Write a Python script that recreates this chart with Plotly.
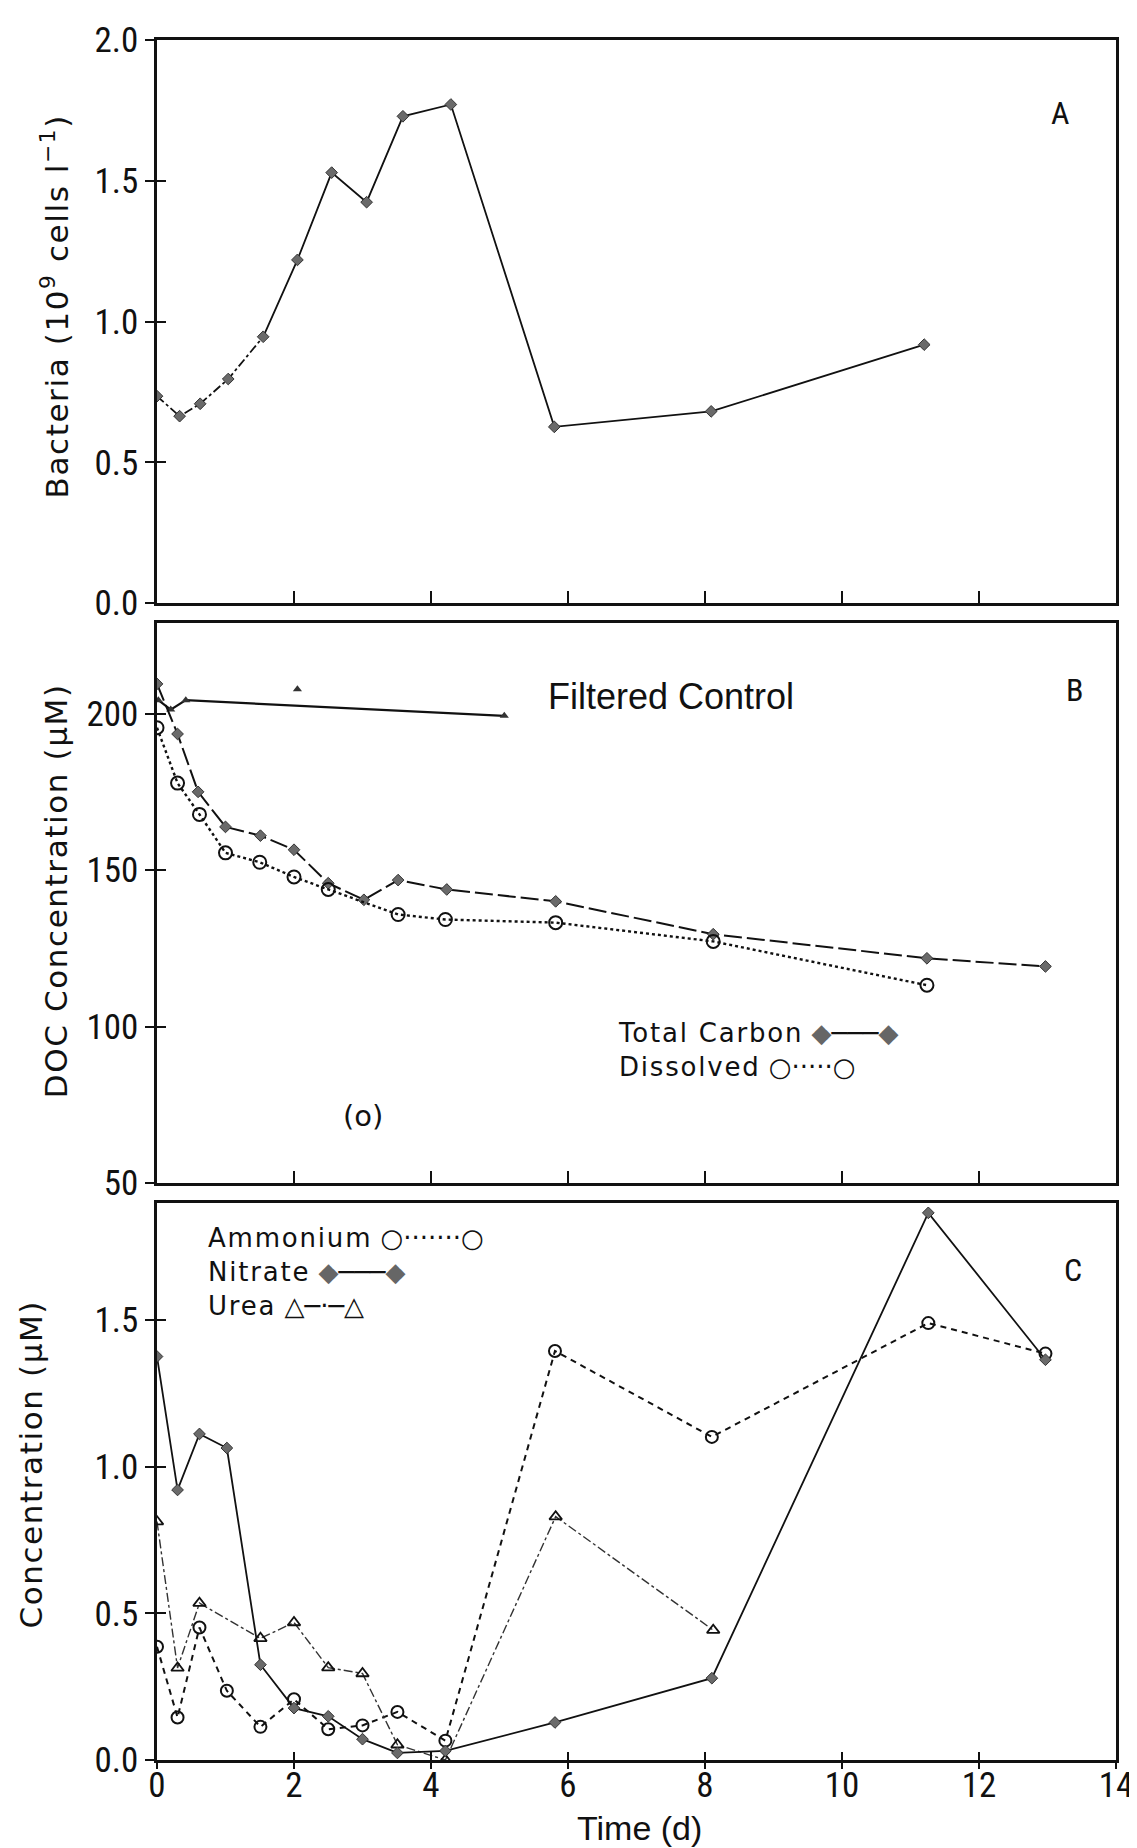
import plotly.graph_objects as go

# ---------------- data ----------------
# Panel A: bacteria
bact_days = [0.0, 0.33, 0.63, 1.04, 1.55, 2.05, 2.55, 3.06, 3.59, 4.29, 5.8, 8.09, 11.2]
bacteria = [0.735, 0.664, 0.708, 0.796, 0.946, 1.219, 1.529, 1.424, 1.729, 1.771, 0.626, 0.681, 0.918]

# Panel B: DOC
tc_days = [0.0, 0.3, 0.6, 1.0, 1.51, 2.0, 2.5, 3.02, 3.52, 4.23, 5.82, 8.12, 11.24, 12.97]
total_carbon = [209.5, 193.5, 175.0, 163.8, 161.0, 156.5, 145.8, 140.5, 146.8, 143.8, 140.0, 129.5, 121.8, 119.2]
dis_days = [0.0, 0.3, 0.62, 1.0, 1.5, 2.0, 2.5, 3.52, 4.21, 5.82, 8.12, 11.24]
dissolved = [195.5, 177.8, 167.8, 155.5, 152.5, 147.8, 143.8, 135.8, 134.2, 133.2, 127.2, 113.2]
ctrl_days = [0.02, 0.2, 0.42, 5.07]
ctrl_doc = [204.3, 201.3, 204.3, 199.3]
ctrl_extra_day = [2.05]
ctrl_extra_doc = [207.8]

# Panel C: nitrogen
n_days = [0.0, 0.3, 0.62, 1.02, 1.51, 2.0, 2.5, 3.0, 3.51, 4.21, 5.81, 8.1, 11.26, 12.97]
nitrate = [1.376, 0.921, 1.112, 1.064, 0.325, 0.177, 0.149, 0.071, 0.024, 0.031, 0.128, 0.279, 1.866, 1.365]
ammonium = [0.386, 0.145, 0.452, 0.236, 0.113, 0.207, 0.105, 0.118, 0.164, 0.066, 1.395, 1.102, 1.49, 1.386]
urea_days = [0.0, 0.3, 0.62, 1.51, 2.0, 2.5, 3.0, 3.51, 4.21, 5.82, 8.12]
urea = [0.813, 0.314, 0.535, 0.415, 0.469, 0.315, 0.295, 0.052, 0.0, 0.83, 0.443]

x_ticks = [0, 2, 4, 6, 8, 10, 12, 14]
a_ticks = [0.0, 0.5, 1.0, 1.5, 2.0]
b_ticks = [50, 100, 150, 200]
c_ticks = [0.0, 0.5, 1.0, 1.5]

# ---------------- style ----------------
NARROW = "Liberation Sans Narrow, Arial Narrow, Roboto Condensed, Liberation Sans, sans-serif"
PLAIN = "Liberation Sans, Arial, sans-serif"
WIDE = "DejaVu Sans, Verdana, sans-serif"
INK = "#111111"
FILL = "#6a6a6a"

fig = go.Figure()

dia = dict(symbol="diamond", size=9, color=FILL, line=dict(color="#333333", width=1))
circ = dict(symbol="circle-open", size=12, color=INK, line=dict(width=2))
tri = dict(symbol="triangle-up-open", size=11, color=INK, line=dict(width=1.8))

# Panel A
fig.add_trace(go.Scatter(x=bact_days[:5], y=bacteria[:5], mode="lines", xaxis="x", yaxis="y",
                         line=dict(color=INK, width=1.8, dash="dashdot"), showlegend=False))
fig.add_trace(go.Scatter(x=bact_days[4:], y=bacteria[4:], mode="lines", xaxis="x", yaxis="y",
                         line=dict(color=INK, width=1.8), showlegend=False))
fig.add_trace(go.Scatter(x=bact_days, y=bacteria, mode="markers", xaxis="x", yaxis="y",
                         marker=dia, showlegend=False))

# Panel B
fig.add_trace(go.Scatter(x=ctrl_days, y=ctrl_doc, mode="lines+markers", xaxis="x2", yaxis="y2",
                         line=dict(color=INK, width=2.2),
                         marker=dict(symbol="triangle-up", size=8, color="#333333"), showlegend=False))
fig.add_trace(go.Scatter(x=ctrl_extra_day, y=ctrl_extra_doc, mode="markers", xaxis="x2", yaxis="y2",
                         marker=dict(symbol="triangle-up", size=8, color="#333333"), showlegend=False))
fig.add_trace(go.Scatter(x=tc_days, y=total_carbon, mode="lines+markers", xaxis="x2", yaxis="y2",
                         line=dict(color=INK, width=2, dash="18px,5px"), marker=dia, showlegend=False))
fig.add_trace(go.Scatter(x=dis_days, y=dissolved, mode="lines+markers", xaxis="x2", yaxis="y2",
                         line=dict(color=INK, width=2.4, dash="dot"),
                         marker=dict(circ, size=13), showlegend=False))

# Panel C
fig.add_trace(go.Scatter(x=n_days, y=ammonium, mode="lines+markers", xaxis="x3", yaxis="y3",
                         line=dict(color=INK, width=2, dash="6px,5px"), marker=circ, showlegend=False))
fig.add_trace(go.Scatter(x=urea_days, y=urea, mode="lines+markers", xaxis="x3", yaxis="y3",
                         line=dict(color="#333333", width=1.4, dash="dashdot"), marker=tri, showlegend=False))
fig.add_trace(go.Scatter(x=n_days, y=nitrate, mode="lines+markers", xaxis="x3", yaxis="y3",
                         line=dict(color=INK, width=1.8), marker=dia, showlegend=False))

# empty traces that only register the overlay axes used for the crossing tick marks
for xa, ya in [("x", "y4"), ("x2", "y5"), ("x3", "y6"), ("x4", "y3")]:
    fig.add_trace(go.Scatter(x=[], y=[], xaxis=xa, yaxis=ya, showlegend=False, hoverinfo="skip"))

tickfont = dict(family=NARROW, size=35, color=INK)

def xax(domain_anchor, labels, ticks_dir, tlen):
    return dict(range=[0, 14], tickvals=x_ticks, showticklabels=labels, ticks=ticks_dir,
                ticklen=tlen, tickwidth=2, tickcolor=INK, showline=True, linecolor=INK,
                linewidth=2.5, mirror=True, showgrid=False, zeroline=False,
                anchor=domain_anchor, tickfont=tickfont)

def yax(rng, tv, tt, dom, anchor):
    return dict(range=rng, tickvals=tv, ticktext=tt, domain=dom, anchor=anchor,
                ticks="outside", ticklen=9, tickwidth=2, tickcolor=INK, showline=True,
                linecolor=INK, linewidth=2.5, mirror=True, showgrid=False, zeroline=False,
                tickfont=tickfont)

def y_inner(rng, tv, over, anchor):
    # inner half of the crossing tick marks
    return dict(range=rng, tickvals=tv, overlaying=over, anchor=anchor, side="left",
                ticks="inside", ticklen=9, tickwidth=2, tickcolor=INK, showline=False,
                showticklabels=False, showgrid=False, zeroline=False)

dA = [0.6726, 1.0]
dB = [0.3355, 0.6611]
dC = [0.0, 0.3239]

xc = xax("y3", True, "inside", 8)
xc["ticklabelstandoff"] = -8

fig.update_layout(
    width=1137, height=1848,
    margin=dict(l=149, r=24, t=23, b=96),
    paper_bgcolor="white", plot_bgcolor="white",
    xaxis=xax("y", False, "inside", 12),
    xaxis2=xax("y2", False, "inside", 12),
    xaxis3=xc,
    xaxis4=dict(range=[0, 14], tickvals=x_ticks, overlaying="x3", anchor="y3", side="bottom",
                ticks="outside", ticklen=8, tickwidth=2, tickcolor=INK, showline=False,
                showticklabels=False, showgrid=False, zeroline=False),
    yaxis=yax([0, 2.0], a_ticks, ["0.0", "0.5", "1.0", "1.5", "2.0"], dA, "x"),
    yaxis2=yax([50, 229], b_ticks, [str(v) for v in b_ticks], dB, "x2"),
    yaxis3=yax([0, 1.9], c_ticks, ["0.0", "0.5", "1.0", "1.5"], dC, "x3"),
    yaxis4=y_inner([0, 2.0], a_ticks, "y", "x"),
    yaxis5=y_inner([50, 229], b_ticks, "y2", "x2"),
    yaxis6=y_inner([0, 1.9], c_ticks, "y3", "x3"),
)

GRAY = '<span style="color:#666666">'
SP = '<span style="letter-spacing:1.6px">'
anns = []
# y-axis titles
anns.append(dict(text=SP + "Bacteria (10<sup>9</sup> cells l<sup>−1</sup>)</span>", x=-0.106, y=sum(dA) / 2 + 0.009,
                 xref="paper", yref="paper", xanchor="center", yanchor="middle", textangle=-90,
                 showarrow=False, font=dict(family=WIDE, size=31, color=INK)))
anns.append(dict(text=SP + "DOC Concentration (μM)</span>", x=-0.105, y=sum(dB) / 2 + 0.007,
                 xref="paper", yref="paper", xanchor="center", yanchor="middle", textangle=-90,
                 showarrow=False, font=dict(family=WIDE, size=31, color=INK)))
anns.append(dict(text=SP + "Concentration (μM)</span>", x=-0.131, y=sum(dC) / 2 + 0.01,
                 xref="paper", yref="paper", xanchor="center", yanchor="middle", textangle=-90,
                 showarrow=False, font=dict(family=WIDE, size=31, color=INK)))
# x-axis title
anns.append(dict(text="Time (d)", x=7.05, y=-0.0395, xref="x3", yref="paper", yanchor="middle",
                 showarrow=False, font=dict(family=PLAIN, size=34, color=INK)))
# panel letters
anns.append(dict(text="A", x=13.18, y=1.74, xref="x", yref="y", showarrow=False,
                 font=dict(family=NARROW, size=32, color=INK)))
anns.append(dict(text="B", x=13.39, y=207.5, xref="x2", yref="y2", showarrow=False,
                 font=dict(family=NARROW, size=32, color=INK)))
anns.append(dict(text="C", x=13.37, y=1.67, xref="x3", yref="y3", showarrow=False,
                 font=dict(family=NARROW, size=32, color=INK)))
# panel B texts
anns.append(dict(text="Filtered Control", x=7.5, y=205.5, xref="x2", yref="y2", showarrow=False,
                 font=dict(family=PLAIN, size=36, color=INK)))
anns.append(dict(text="(o)", x=3.0, y=71.5, xref="x2", yref="y2", showarrow=False,
                 font=dict(family=WIDE, size=29, color=INK)))
LSP = '<span style="letter-spacing:1.8px">'
anns.append(dict(text=LSP + "Total Carbon</span> " + GRAY + "◆</span>───" + GRAY + "◆</span><br>"
                 + LSP + "Dissolved</span> ○·····○",
                 x=6.7, y=92.5, xref="x2", yref="y2", xanchor="left", yanchor="middle", align="left",
                 showarrow=False, font=dict(family=WIDE, size=26, color=INK)))
# panel C legend
anns.append(dict(text=LSP + "Ammonium</span> ○·······○<br>"
                 + LSP + "Nitrate</span> " + GRAY + "◆</span>───" + GRAY + "◆</span><br>"
                 + LSP + "Urea</span> △─·─△",
                 x=0.72, y=1.665, xref="x3", yref="y3", xanchor="left", yanchor="middle", align="left",
                 showarrow=False, font=dict(family=WIDE, size=26, color=INK)))

fig.update_layout(annotations=anns)

fig.write_html("out.html")
